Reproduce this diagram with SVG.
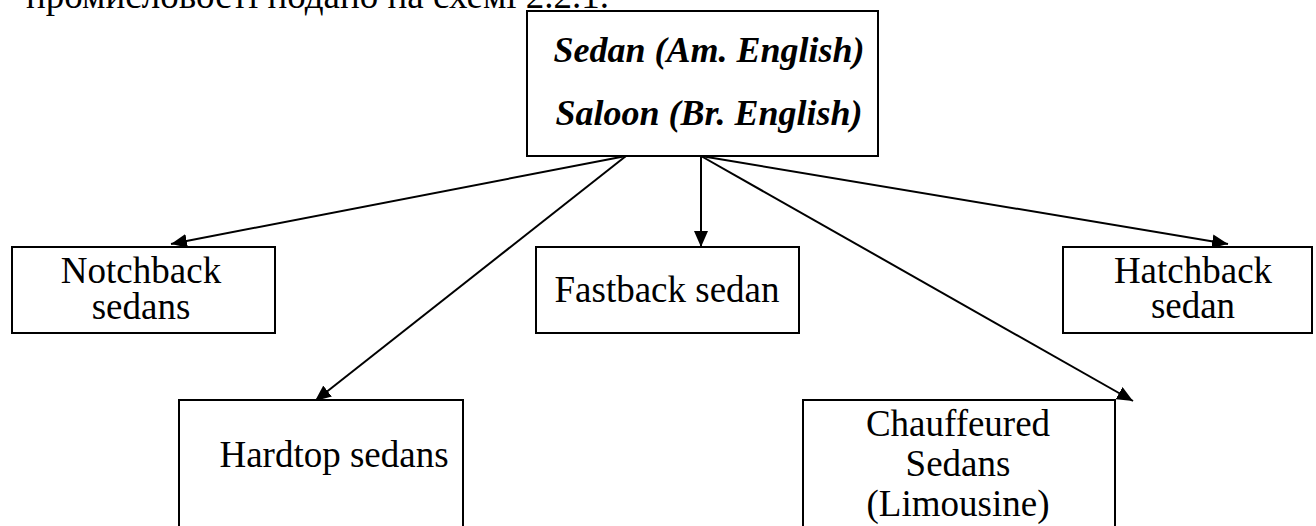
<svg xmlns="http://www.w3.org/2000/svg" width="1316" height="526" viewBox="0 0 1316 526">
<style>
.box{fill:#fff;stroke:#000;stroke-width:2}
.t{font-family:"Liberation Serif","Times New Roman","DejaVu Serif",serif;font-size:37px;fill:#000;text-anchor:middle}
.bi{font-family:"Liberation Serif","Times New Roman","DejaVu Serif",serif;font-size:36px;font-weight:bold;font-style:italic;fill:#000;text-anchor:middle}
.c{stroke:#000;stroke-width:2;fill:none;marker-end:url(#ah)}
</style>
<defs>
<marker id="ah" markerUnits="userSpaceOnUse" markerWidth="16" markerHeight="14" viewBox="0 0 16 14" refX="16" refY="7" orient="auto">
<path d="M0,0 L16,7 L0,14 Z" fill="#000"/>
</marker>
</defs>
<rect width="1316" height="526" fill="#fff"/>
<text x="26" y="8" style="font-family:'Liberation Serif','Times New Roman','DejaVu Serif',serif;font-size:37px;fill:#000">промисловості подано на схемі 2.2.1.</text>
<g id="connectors">
<line class="c" x1="626" y1="156" x2="171" y2="244"/>
<line class="c" x1="626" y1="156" x2="315" y2="401"/>
<line class="c" x1="701" y1="156" x2="701" y2="247"/>
<line class="c" x1="701" y1="156" x2="1133" y2="401"/>
<line class="c" x1="701" y1="156" x2="1228" y2="244"/>
</g>
<g id="sedan">
<rect class="box" x="527" y="11" width="351" height="145"/>
<text class="bi" x="709" y="62">Sedan (Am. English)</text>
<text class="bi" x="709" y="125">Saloon (Br. English)</text>
</g>
<g id="notchback">
<rect class="box" x="12" y="247" width="263" height="86"/>
<text class="t" x="141" y="283">Notchback</text>
<text class="t" x="141" y="319">sedans</text>
</g>
<g id="fastback">
<rect class="box" x="536" y="247" width="263" height="86"/>
<text class="t" x="667" y="302">Fastback sedan</text>
</g>
<g id="hatchback">
<rect class="box" x="1063" y="247" width="249" height="86"/>
<text class="t" x="1193" y="283">Hatchback</text>
<text class="t" x="1193" y="318">sedan</text>
</g>
<g id="hardtop">
<rect class="box" x="179" y="400" width="284" height="140"/>
<text class="t" x="334" y="467">Hardtop sedans</text>
</g>
<g id="chauffeured">
<rect class="box" x="803" y="400" width="312" height="140"/>
<text class="t" x="958" y="436">Chauffeured</text>
<text class="t" x="958" y="476">Sedans</text>
<text class="t" x="958" y="516">(Limousine)</text>
</g>
</svg>
